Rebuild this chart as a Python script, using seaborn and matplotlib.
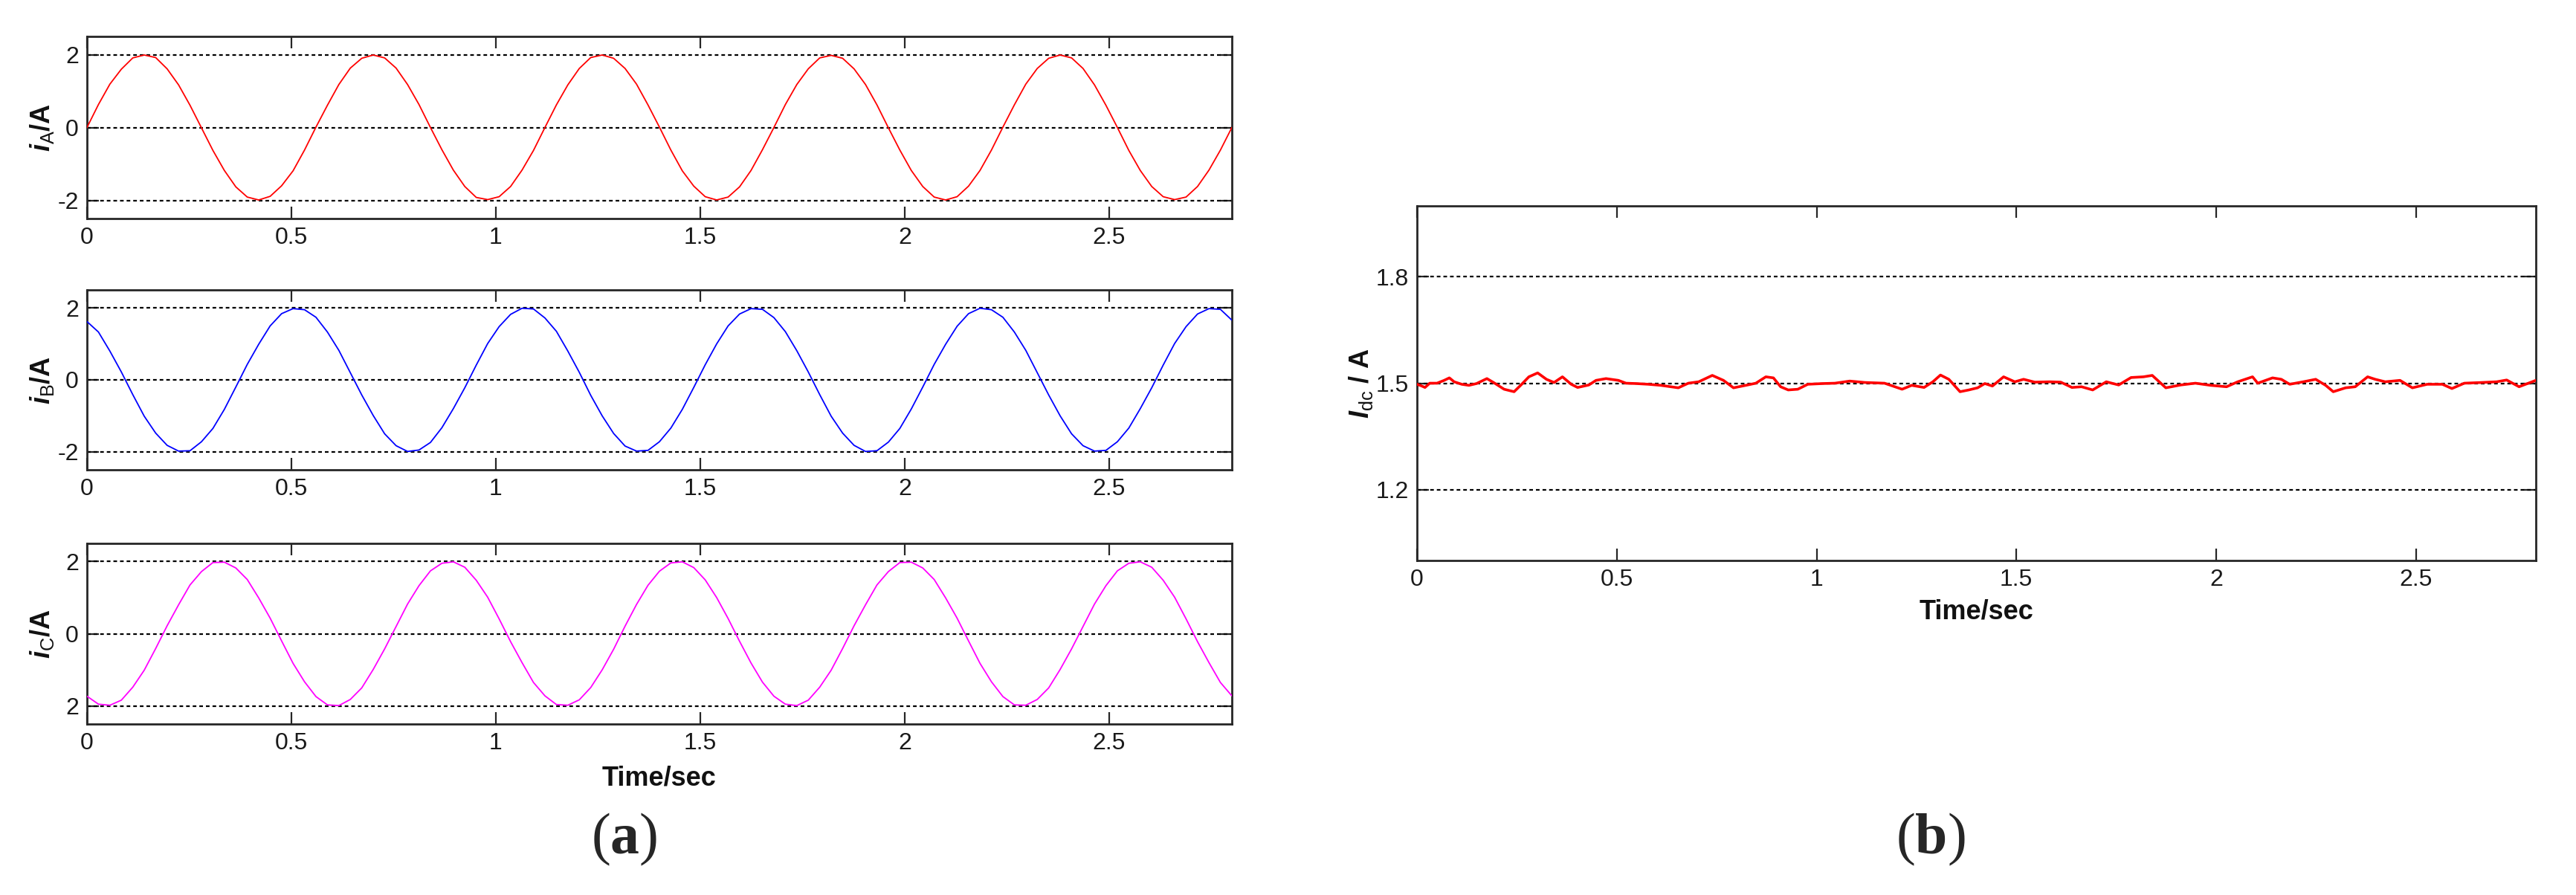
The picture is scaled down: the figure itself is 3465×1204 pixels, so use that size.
import numpy as np
import pandas as pd
import matplotlib
matplotlib.use("Agg")
import matplotlib.pyplot as plt
from matplotlib import font_manager
import seaborn as sns

# ---------------- data ----------------
t_step = 0.028
n_samples = 101
time_a = np.round(np.arange(n_samples) * t_step, 3)

i_A = [0.00, 0.63, 1.19, 1.60, 1.91, 1.99, 1.92, 1.61, 1.17, 0.61, -0.01, -0.63, -1.18, -1.63, -1.91, -1.99, -1.89, -1.60, -1.19, -0.62,
       0.01, 0.61, 1.18, 1.63, 1.90, 1.99, 1.91, 1.63, 1.18, 0.63, 0.00, -0.61, -1.17, -1.62, -1.92, -1.98, -1.90, -1.62, -1.17, -0.63,
       0.00, 0.62, 1.17, 1.62, 1.92, 1.99, 1.90, 1.62, 1.19, 0.62, 0.01, -0.62, -1.19, -1.61, -1.90, -1.99, -1.91, -1.63, -1.18, -0.61,
       0.00, 0.63, 1.18, 1.61, 1.91, 1.98, 1.90, 1.61, 1.18, 0.62, -0.01, -0.62, -1.18, -1.62, -1.91, -1.99, -1.90, -1.61, -1.18, -0.62,
       0.01, 0.62, 1.19, 1.62, 1.90, 1.99, 1.91, 1.62, 1.17, 0.61, 0.00, -0.63, -1.18, -1.62, -1.90, -1.98, -1.91, -1.62, -1.17, -0.62,
       0.00]

i_B = [1.62, 1.33, 0.80, 0.22, -0.41, -1.01, -1.48, -1.82, -1.98, -1.97, -1.72, -1.35, -0.82, -0.20, 0.43, 0.99, 1.50, 1.84, 1.98, 1.95,
       1.74, 1.33, 0.82, 0.20, -0.42, -0.99, -1.50, -1.83, -1.99, -1.95, -1.74, -1.33, -0.80, -0.22, 0.41, 1.01, 1.48, 1.82, 1.99, 1.97,
       1.72, 1.35, 0.80, 0.21, -0.43, -1.00, -1.49, -1.84, -1.98, -1.96, -1.72, -1.34, -0.82, -0.21, 0.42, 1.00, 1.50, 1.83, 1.98, 1.96,
       1.73, 1.34, 0.81, 0.22, -0.41, -1.01, -1.48, -1.82, -1.99, -1.97, -1.73, -1.35, -0.81, -0.20, 0.43, 0.99, 1.49, 1.84, 1.99, 1.95,
       1.74, 1.33, 0.82, 0.20, -0.42, -1.00, -1.50, -1.83, -1.98, -1.96, -1.72, -1.34, -0.80, -0.22, 0.41, 1.01, 1.48, 1.83, 1.98, 1.96,
       1.66]

i_C = [-1.73, -1.95, -1.98, -1.84, -1.48, -1.01, -0.41, 0.22, 0.80, 1.35, 1.72, 1.97, 1.98, 1.82, 1.50, 0.99, 0.43, -0.20, -0.82, -1.33,
       -1.74, -1.97, -1.99, -1.82, -1.50, -0.99, -0.42, 0.20, 0.82, 1.33, 1.74, 1.95, 1.99, 1.84, 1.48, 1.01, 0.41, -0.22, -0.80, -1.35,
       -1.72, -1.96, -1.98, -1.83, -1.49, -1.00, -0.43, 0.21, 0.81, 1.34, 1.73, 1.96, 1.99, 1.83, 1.49, 1.00, 0.42, -0.21, -0.81, -1.34,
       -1.73, -1.95, -1.99, -1.84, -1.48, -1.01, -0.41, 0.22, 0.80, 1.35, 1.72, 1.97, 1.98, 1.82, 1.50, 0.99, 0.43, -0.20, -0.82, -1.33,
       -1.74, -1.97, -1.98, -1.82, -1.50, -0.99, -0.42, 0.20, 0.82, 1.33, 1.74, 1.95, 1.99, 1.84, 1.48, 1.01, 0.41, -0.22, -0.80, -1.35,
       -1.72]

time_dc = [0.0, 0.01, 0.02, 0.032, 0.05, 0.068, 0.081, 0.093, 0.112, 0.13, 0.149, 0.175, 0.193, 0.218, 0.243, 0.262, 0.28, 0.302,
           0.324, 0.343, 0.364, 0.386, 0.402, 0.43, 0.448, 0.473, 0.504, 0.523, 0.548, 0.579, 0.61, 0.654, 0.679, 0.705, 0.739,
           0.767, 0.792, 0.823, 0.848, 0.873, 0.892, 0.91, 0.929, 0.953, 0.978, 1.015, 1.046, 1.083, 1.121, 1.17, 1.214, 1.238,
           1.269, 1.291, 1.31, 1.331, 1.359, 1.381, 1.403, 1.421, 1.44, 1.468, 1.496, 1.518, 1.546, 1.583, 1.611, 1.639, 1.663,
           1.691, 1.725, 1.756, 1.787, 1.818, 1.84, 1.874, 1.911, 1.948, 1.986, 2.026, 2.054, 2.091, 2.104, 2.141, 2.163, 2.184,
           2.218, 2.249, 2.274, 2.293, 2.324, 2.348, 2.379, 2.398, 2.423, 2.46, 2.491, 2.528, 2.566, 2.59, 2.621, 2.665, 2.702,
           2.727, 2.758, 2.8]
i_dc = [1.497, 1.493, 1.488, 1.500, 1.500, 1.508, 1.515, 1.504, 1.497, 1.494, 1.499, 1.513, 1.501, 1.483, 1.476, 1.497, 1.518, 1.529,
        1.511, 1.502, 1.518, 1.497, 1.488, 1.495, 1.508, 1.513, 1.508, 1.500, 1.499, 1.497, 1.494, 1.487, 1.500, 1.504, 1.522,
        1.508, 1.487, 1.494, 1.500, 1.518, 1.515, 1.490, 1.481, 1.483, 1.497, 1.499, 1.500, 1.506, 1.502, 1.500, 1.483, 1.494,
        1.488, 1.504, 1.523, 1.511, 1.476, 1.481, 1.487, 1.499, 1.492, 1.518, 1.504, 1.511, 1.503, 1.504, 1.503, 1.488, 1.490,
        1.481, 1.504, 1.495, 1.516, 1.518, 1.522, 1.487, 1.495, 1.500, 1.494, 1.490, 1.504, 1.518, 1.500, 1.515, 1.511, 1.497,
        1.504, 1.511, 1.494, 1.476, 1.487, 1.490, 1.518, 1.511, 1.504, 1.508, 1.487, 1.497, 1.497, 1.485, 1.500, 1.502, 1.504,
        1.509, 1.490, 1.508]

x_ticks = [0, 0.5, 1, 1.5, 2, 2.5]
x_tick_labels = ["0", "0.5", "1", "1.5", "2", "2.5"]
ac_ticks = [-2, 0, 2]
ac_tick_labels = ["-2", "0", "2"]
c_tick_labels = ["2", "0", "2"]
dc_ticks = [1.2, 1.5, 1.8]
dc_tick_labels = ["1.2", "1.5", "1.8"]

# ---------------- style ----------------
sns.set_theme(style="white")
avail = {f.name for f in font_manager.fontManager.ttflist}
sans = "Liberation Sans" if "Liberation Sans" in avail else "DejaVu Sans"
serif = "Liberation Serif" if "Liberation Serif" in avail else "DejaVu Serif"
plt.rcParams["font.family"] = [sans, "DejaVu Sans"]
plt.rcParams["mathtext.fontset"] = "custom"
plt.rcParams["mathtext.it"] = f"{sans}:italic:bold"
plt.rcParams["mathtext.rm"] = sans
plt.rcParams["mathtext.bf"] = f"{serif}:bold"

DPI = 100
fig = plt.figure(figsize=(34.65, 12.04), dpi=DPI)
W, H = 3465, 1204


def rect(l, t, r, b):
    return [l / W, 1 - b / H, (r - l) / W, (b - t) / H]


ax1 = fig.add_axes(rect(117, 49, 1657, 294))
ax2 = fig.add_axes(rect(117, 390, 1657, 632))
ax3 = fig.add_axes(rect(117, 731, 1657, 974))
axb = fig.add_axes(rect(1906, 277, 3411, 754))

spine_col = "#262626"
tick_fs = 23


def style_axes(ax, ylim, yticks, ylabels):
    ax.set_xlim(0, 2.8)
    ax.set_ylim(*ylim)
    ax.set_xticks(x_ticks)
    ax.set_xticklabels(x_tick_labels)
    ax.set_yticks(yticks)
    ax.set_yticklabels(ylabels)
    for y in yticks:
        ax.axhline(y, color="black", lw=1.6, linestyle=(0, (2.2, 1.8)), zorder=1)
    for s in ax.spines.values():
        s.set_visible(True)
        s.set_color(spine_col)
        s.set_linewidth(2.0)
    ax.tick_params(axis="both", which="both", direction="in", length=11.5, width=1.6,
                   color=spine_col, labelsize=tick_fs, labelcolor="#1a1a1a",
                   top=True, right=True, bottom=True, left=True, pad=8)
    ax.grid(False)
    ax.set_xlabel("")
    ax.set_ylabel("")


df_a = pd.DataFrame({"t": time_a, "iA": i_A, "iB": i_B, "iC": i_C})
df_dc = pd.DataFrame({"t": time_dc, "idc": i_dc})

sns.lineplot(data=df_a, x="t", y="iA", ax=ax1, color="#FF0000", linewidth=1.3, estimator=None, sort=False, zorder=3)
sns.lineplot(data=df_a, x="t", y="iB", ax=ax2, color="#0000FF", linewidth=1.3, estimator=None, sort=False, zorder=3)
sns.lineplot(data=df_a, x="t", y="iC", ax=ax3, color="#FF00FF", linewidth=1.3, estimator=None, sort=False, zorder=3)
sns.lineplot(data=df_dc, x="t", y="idc", ax=axb, color="#FF0000", linewidth=2.6, estimator=None, sort=False, zorder=3)

style_axes(ax1, (-2.5, 2.5), ac_ticks, ac_tick_labels)
style_axes(ax2, (-2.5, 2.5), ac_ticks, ac_tick_labels)
style_axes(ax3, (-2.5, 2.5), ac_ticks, c_tick_labels)
style_axes(axb, (1.0, 2.0), dc_ticks, dc_tick_labels)

lab_fs = 26
for ax, sub in ((ax1, "A"), (ax2, "B"), (ax3, "C")):
    ax.set_ylabel(r"$i_{\mathrm{%s}}$/A" % sub, fontsize=lab_fs, fontweight="bold", color="#111111")
    ax.yaxis.set_label_coords(-0.027, 0.5)

axb.set_ylabel(r"$I_{\mathrm{dc}}$ / A", fontsize=lab_fs, fontweight="bold", color="#111111")
axb.yaxis.set_label_coords(-0.038, 0.5)

ax3.set_xlabel("Time/sec", fontsize=26, fontweight="bold", color="#111111")
ax3.xaxis.set_label_coords(0.5, -0.23)
axb.set_xlabel("Time/sec", fontsize=26, fontweight="bold", color="#111111")
axb.xaxis.set_label_coords(0.5, -0.107)

fig.text(840 / W, 1 - 1129 / H, r"($\mathbf{a}$)", family=serif, fontsize=56, ha="center", va="center")
fig.text(2597 / W, 1 - 1129 / H, r"($\mathbf{b}$)", family=serif, fontsize=56, ha="center", va="center")

fig.savefig("out.png", dpi=DPI, facecolor="white")
